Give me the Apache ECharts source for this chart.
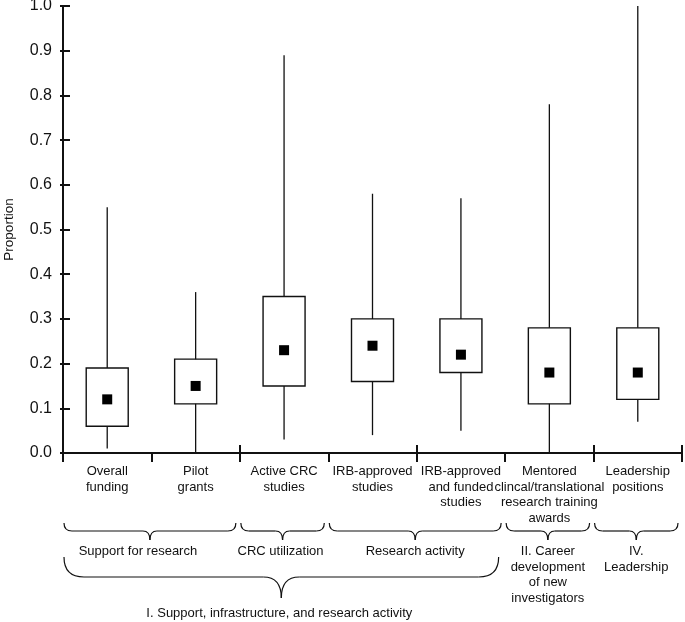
<!DOCTYPE html>
<html>
<head>
<meta charset="utf-8">
<script src="https://cdn.jsdelivr.net/npm/echarts@6/dist/echarts.min.js"></script>
<style>
html,body{margin:0;padding:0;background:#fff;}
#main{width:685px;height:622px;}
</style>
</head>
<body>
<div id="main"></div>
<script>
// ---- data ----
const categories = [
  "Overall\nfunding",
  "Pilot\ngrants",
  "Active CRC\nstudies",
  "IRB-approved\nstudies",
  "IRB-approved\nand funded\nstudies",
  "Mentored\nclincal/translational\nresearch training\nawards",
  "Leadership\npositions"
];
const minVals  = [0.01, 0.00, 0.03, 0.04, 0.05, 0.00, 0.07];
const q1Vals   = [0.06, 0.11, 0.15, 0.16, 0.18, 0.11, 0.12];
const q3Vals   = [0.19, 0.21, 0.35, 0.30, 0.30, 0.28, 0.28];
const maxVals  = [0.55, 0.36, 0.89, 0.58, 0.57, 0.78, 1.00];
const meanVals = [0.12, 0.15, 0.23, 0.24, 0.22, 0.18, 0.18];
const yTicks = [0.0, 0.1, 0.2, 0.3, 0.4, 0.5, 0.6, 0.7, 0.8, 0.9, 1.0];

const groupNames = ["Support for research", "CRC utilization", "Research activity",
  "II. Career\ndevelopment\nof new\ninvestigators", "IV.\nLeadership"];
const groupStart = [0, 2, 3, 5, 6];
const groupEnd   = [1, 2, 4, 5, 6];
const domainName = "I. Support, infrastructure, and research activity";
const domainStart = 0, domainEnd = 4;

// ---- styles ----
const FONT = "'Liberation Sans', Arial, Helvetica, sans-serif";
const INK = '#111';
const groupLabelDx = [-12, -2, 0, 0, 0];

const chart = echarts.init(document.getElementById('main'));

const boxData = categories.map((c, i) => [i, minVals[i], q1Vals[i], q3Vals[i], maxVals[i]]);
const meanData = categories.map((c, i) => [i, meanVals[i]]);

const baseX = {
  type: 'category', data: categories, position: 'bottom', gridIndex: 0,
  boundaryGap: true,
};

chart.setOption({
  animation: false,
  backgroundColor: '#fff',
  grid: {left: 63, right: 3, top: 6, bottom: 169, containLabel: false, outerBoundsMode: 'none'},
  xAxis: [
    Object.assign({}, baseX, {
      axisLine: {show: true, lineStyle: {color: INK, width: 2}},
      axisTick: {show: true, inside: false, length: 9, lineStyle: {color: INK, width: 2}},
      axisLabel: {interval: 0, margin: 11, color: INK, fontFamily: FONT, fontSize: 13, lineHeight: 15.5, align: 'center'},
      splitLine: {show: false}
    }),
    Object.assign({}, baseX, {
      axisLine: {show: false},
      axisTick: {show: true, inside: true, length: 8, lineStyle: {color: INK, width: 2}},
      axisLabel: {show: false},
      splitLine: {show: false}
    })
  ],
  yAxis: [
    {
      type: 'value', min: yTicks[0], max: yTicks[yTicks.length - 1], interval: 0.1,
      name: 'Proportion', nameLocation: 'middle', nameGap: 47,
      nameTextStyle: {color: INK, fontFamily: FONT, fontSize: 13.5},
      axisLine: {show: true, lineStyle: {color: INK, width: 2}},
      axisTick: {show: true, inside: true, length: 7, lineStyle: {color: INK, width: 2}},
      axisLabel: {color: INK, fontFamily: FONT, fontSize: 16, margin: 11,
        formatter: v => v.toFixed(1)},
      splitLine: {show: false}
    },
    {
      type: 'value', min: yTicks[0], max: yTicks[yTicks.length - 1], interval: 0.1, position: 'left',
      axisLine: {show: false},
      axisTick: {show: true, inside: false, length: 3, lineStyle: {color: INK, width: 2}},
      axisLabel: {show: false},
      splitLine: {show: false}
    }
  ],
  series: [
    {
      type: 'custom',
      xAxisIndex: 0, yAxisIndex: 0,
      data: boxData,
      encode: {x: 0, y: [1, 2, 3, 4]},
      z: 3,
      renderItem: function (params, api) {
        const xi = api.value(0);
        const pMin = api.coord([xi, api.value(1)]);
        const pQ1 = api.coord([xi, api.value(2)]);
        const pQ3 = api.coord([xi, api.value(3)]);
        const pMax = api.coord([xi, api.value(4)]);
        const bw = api.size([1, 0])[0] * 0.475;
        return {
          type: 'group',
          children: [
            {type: 'line', shape: {x1: pMin[0], y1: pMin[1], x2: pMax[0], y2: pMax[1]},
             style: {stroke: INK, lineWidth: 1.3}},
            {type: 'rect', shape: {x: pQ3[0] - bw / 2, y: pQ3[1], width: bw, height: pQ1[1] - pQ3[1]},
             style: {fill: '#fff', stroke: INK, lineWidth: 1.4}}
          ]
        };
      }
    },
    {
      type: 'scatter',
      xAxisIndex: 0, yAxisIndex: 0,
      data: meanData,
      symbol: 'rect',
      symbolSize: 10,
      itemStyle: {color: '#000', opacity: 1},
      z: 5
    }
  ]
});

// ---- group braces and labels, positioned from the category axis ----
function catCenter(i) { return chart.convertToPixel({xAxisIndex: 0}, i); }
const half = (catCenter(1) - catCenter(0)) / 2;
const braceStyle = {fill: null, stroke: INK, lineWidth: 1.2};
function brace(x1, x2, yTop, yMid, yTip, r, rt) {
  const xt = (x1 + x2) / 2;
  const els = [
    {type: 'bezierCurve', shape: {x1: x1, y1: yTop, cpx1: x1, cpy1: yMid, x2: x1 + r, y2: yMid}},
    {type: 'line', shape: {x1: x1 + r, y1: yMid, x2: xt - rt, y2: yMid}},
    {type: 'bezierCurve', shape: {x1: xt - rt, y1: yMid, cpx1: xt, cpy1: yMid, x2: xt, y2: yTip}},
    {type: 'bezierCurve', shape: {x1: xt, y1: yTip, cpx1: xt, cpy1: yMid, x2: xt + rt, y2: yMid}},
    {type: 'line', shape: {x1: xt + rt, y1: yMid, x2: x2 - r, y2: yMid}},
    {type: 'bezierCurve', shape: {x1: x2 - r, y1: yMid, cpx1: x2, cpy1: yMid, x2: x2, y2: yTop}}
  ];
  els.forEach(e => { e.silent = true; e.style = Object.assign({}, braceStyle); });
  return els;
}
let graphics = [];
groupNames.forEach((name, g) => {
  const x1 = catCenter(groupStart[g]) - half + 1;
  const x2 = catCenter(groupEnd[g]) + half - 4;
  const xt = (x1 + x2) / 2;
  graphics = graphics.concat(brace(x1, x2, 523, 531, 540, 8, 7));
  graphics.push({
    type: 'text', silent: true, x: xt + groupLabelDx[g], y: 544,
    style: {text: name, fill: INK, font: `13px ${FONT}`, align: 'center', verticalAlign: 'top', lineHeight: 15.5}
  });
});
{
  const x1 = catCenter(domainStart) - half + 1;
  const x2 = catCenter(domainEnd) + half - 6.5;
  const xt = (x1 + x2) / 2;
  graphics = graphics.concat(brace(x1, x2, 557, 577, 598, 20, 18));
  graphics.push({
    type: 'text', silent: true, x: xt - 2, y: 606,
    style: {text: domainName, fill: INK, font: `13px ${FONT}`, align: 'center', verticalAlign: 'top', lineHeight: 15.5}
  });
}
chart.setOption({graphic: graphics});
</script>
</body>
</html>
